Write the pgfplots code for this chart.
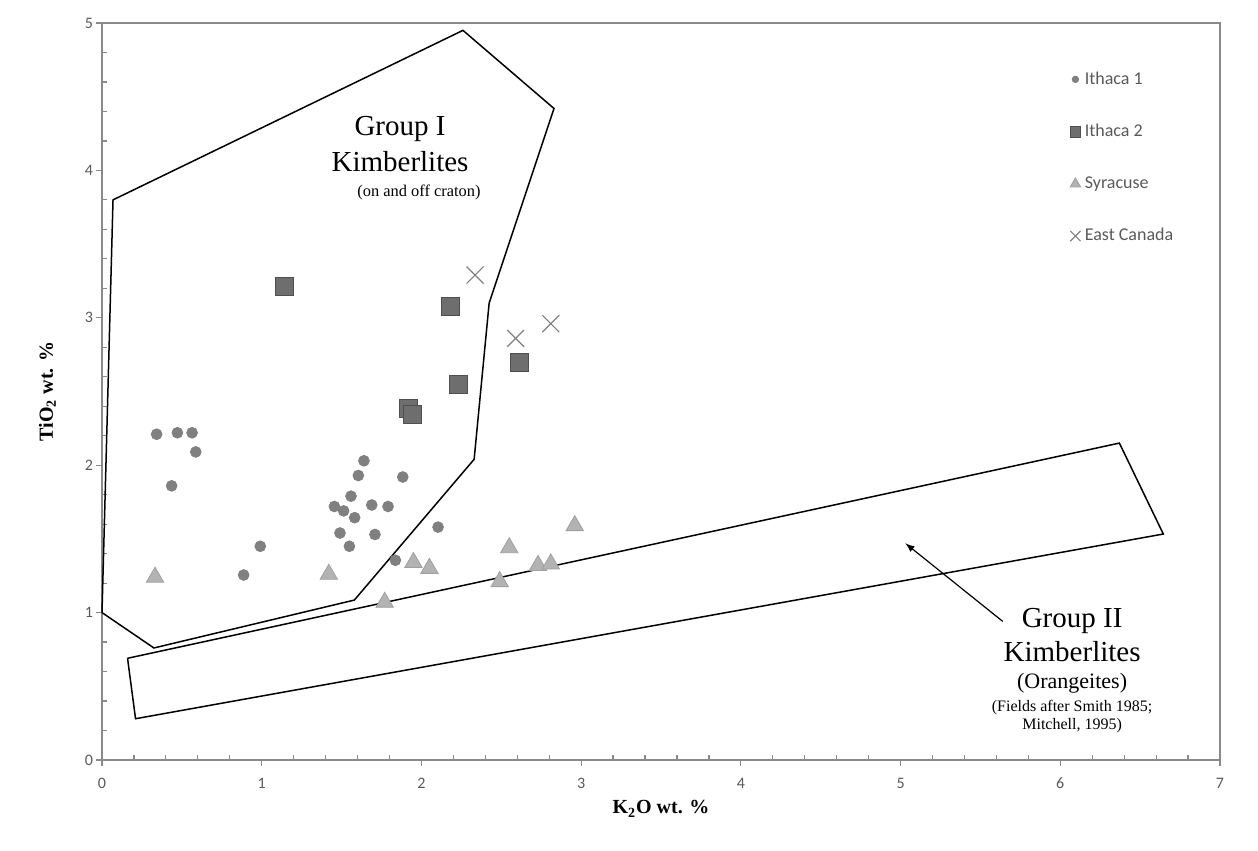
\documentclass[border=0pt]{standalone}
\usepackage{pgfplots}
\pgfplotsset{compat=1.18}
\usepackage{fontspec}
\setmainfont{Liberation Serif}
\newfontfamily\calibri{Carlito}
\definecolor{axisgray}{HTML}{8A8A8A}
\definecolor{ticktext}{HTML}{595959}
\definecolor{circfill}{HTML}{808080}
\definecolor{sqfill}{HTML}{6E6E6E}
\definecolor{sqdraw}{HTML}{4F4F4F}
\definecolor{trifill}{HTML}{B3B3B3}
\definecolor{tridraw}{HTML}{A0A0A0}
\definecolor{crossc}{HTML}{808080}
\begin{document}
\begin{tikzpicture}
\begin{axis}[
  at={(0,0)}, anchor=south west,
  scale only axis, width=559pt, height=368.5pt,
  xmin=0, xmax=7, ymin=0, ymax=5,
  xtick={0,...,7}, ytick={0,...,5},
  minor x tick num=4, minor y tick num=4,
  tick pos=left,
  axis line style={axisgray, line width=0.9pt},
  tick style={axisgray, line width=0.6pt},
  tick align=inside,
  major tick length=3pt, minor tick length=2.5pt,
  every major x tick/.append style={yshift=-3pt},
  every major y tick/.append style={xshift=-3pt},
  ticklabel style={font=\calibri\fontsize{8}{9}\selectfont, text=ticktext},
  /pgf/number format/assume math mode=true,
  xticklabel style={yshift=-5.5pt},
  yticklabel style={xshift=-1pt},
  xlabel={\textbf{K\textsubscript{2}O wt. \%}},
  ylabel={\textbf{TiO\textsubscript{2} wt. \%}},
  label style={font=\fontsize{10}{12}\selectfont},
  xlabel style={at={([yshift=-27pt]axis description cs:0.5,0)}, anchor=base},
  ylabel style={at={([xshift=-24.5pt]axis description cs:0,0.5)}, anchor=base, rotate=0},
  legend cell align=left,
  legend style={at={(axis description cs:0.8655,0.940)}, anchor=north west,
    draw=none, fill=none, inner sep=0pt, row sep=14.5pt,
    font=\calibri\fontsize{9}{10}\selectfont, text=ticktext},
  legend image code/.code={\draw[mark repeat=2,mark phase=2,#1,every mark/.append style={scale=0.6}] plot coordinates {(0cm,0cm)(0.12cm,0cm)(0.24cm,0cm)};},
  clip=false,
]
% Ithaca 1
\addplot[only marks, mark=*, mark size=2.7pt, mark options={fill=circfill, draw=circfill}] coordinates {
(0.342,2.21) (0.472,2.22) (0.564,2.22) (0.587,2.09) (0.436,1.86)
(0.991,1.45) (0.887,1.255) (1.64,2.03) (1.605,1.93) (1.883,1.92)
(1.559,1.79) (1.455,1.72) (1.513,1.69) (1.689,1.73) (1.791,1.72)
(1.582,1.644) (1.49,1.54) (1.709,1.53) (1.549,1.45) (2.104,1.58)
(1.837,1.355)
};
\addlegendentry{Ithaca 1}
% Ithaca 2
\addplot[only marks, mark=square*, mark size=4.5pt, mark options={fill=sqfill, draw=sqdraw, line width=0.5pt}] coordinates {
(1.144,3.21) (2.185,3.075) (2.615,2.70) (2.233,2.546) (1.92,2.383) (1.943,2.347)
};
\addlegendentry{Ithaca 2}
% Syracuse
\addplot[only marks, mark=triangle*, mark size=5pt, mark options={fill=trifill, draw=tridraw, line width=0.4pt}] coordinates {
(0.332,1.24) (1.42,1.26) (1.95,1.34) (2.05,1.30) (1.77,1.07)
(2.49,1.21) (2.55,1.44) (2.73,1.32) (2.81,1.33) (2.96,1.59)
};
\addlegendentry{Syracuse}
% East Canada
\addplot[only marks, mark=x, mark size=6pt, mark options={draw=crossc, line width=0.6pt}] coordinates {
(2.336,3.29) (2.59,2.86) (2.81,2.96)
};
\addlegendentry{East Canada}
% Group I field
\addplot[black, line width=0.75pt, mark=none, forget plot] coordinates {
(0,1.0) (0.069,3.80) (2.26,4.95) (2.83,4.42) (2.424,3.10) (2.33,2.04) (1.58,1.085) (0.325,0.76) (0,1.0)
};
% Group II field
\addplot[black, line width=0.75pt, mark=none, forget plot] coordinates {
(0.16,0.69) (0.21,0.28) (6.645,1.533) (6.37,2.15) (0.16,0.69)
};
\draw[-latex, black, line width=0.6pt] (axis cs:5.64,0.94) -- (axis cs:5.03,1.47);
\node[anchor=base, font=\fontsize{14.5}{16}\selectfont] at (axis cs:1.866,4.24) {Group I};
\node[anchor=base, font=\fontsize{14.5}{16}\selectfont] at (axis cs:1.866,3.99) {Kimberlites};
\node[anchor=base, font=\fontsize{8.2}{10}\selectfont] at (axis cs:1.985,3.826) {(on and off craton)};
\node[anchor=base, font=\fontsize{14.5}{16}\selectfont] at (axis cs:6.074,0.902) {Group II};
\node[anchor=base, font=\fontsize{14.5}{16}\selectfont] at (axis cs:6.074,0.665) {Kimberlites};
\node[anchor=base, font=\fontsize{11}{13}\selectfont] at (axis cs:6.074,0.482) {(Orangeites)};
\node[anchor=base, font=\fontsize{8}{10}\selectfont] at (axis cs:6.074,0.326) {(Fields after Smith 1985;};
\node[anchor=base, font=\fontsize{8}{10}\selectfont] at (axis cs:6.074,0.204) {Mitchell, 1995)};
\end{axis}
\pgfresetboundingbox
\path[use as bounding box] (-51pt,-45.5pt) rectangle (578pt,380pt);
\end{tikzpicture}
\end{document}
